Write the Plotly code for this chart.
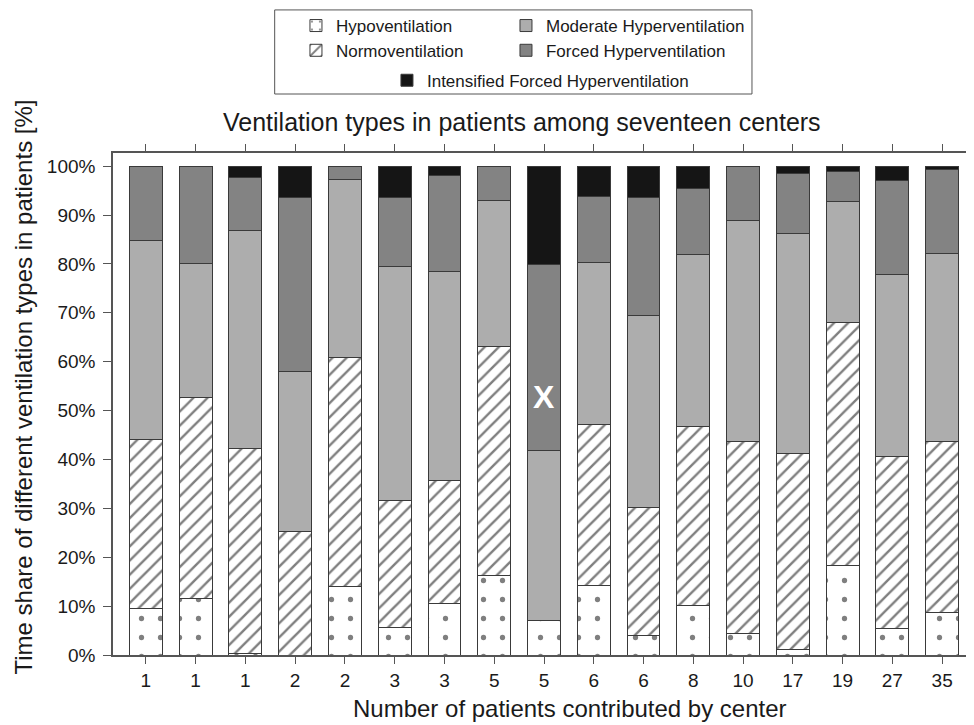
import plotly.graph_objects as go

centers = ["1", "1", "1", "2", "2", "3", "3", "5", "5", "6", "6", "8", "10", "17", "19", "27", "35"]

# Cumulative tops (percent)
hypo_top = [9.5, 11.5, 0.3, 0.0, 14.0, 5.6, 10.6, 16.2, 7.0, 14.2, 4.0, 10.2, 4.3, 1.2, 18.4, 5.4, 8.7]
normo_top = [44.1, 52.6, 42.3, 25.2, 60.8, 31.6, 35.7, 63.1, 7.0, 47.1, 30.1, 46.8, 43.6, 41.2, 68.1, 40.7, 43.6]
moderate_top = [84.9, 80.1, 86.8, 58.1, 97.3, 79.5, 78.5, 92.9, 41.9, 80.4, 69.4, 81.9, 88.8, 86.2, 92.7, 77.9, 82.1]
forced_top = [100.0, 100.0, 97.7, 93.6, 100.0, 93.6, 98.0, 100.0, 79.8, 93.9, 93.6, 95.4, 100.0, 98.5, 98.9, 97.0, 99.4]
total_top = [100.0] * 17

hypo = hypo_top
normo = [b - a for a, b in zip(hypo_top, normo_top)]
moderate = [b - a for a, b in zip(normo_top, moderate_top)]
forced = [b - a for a, b in zip(moderate_top, forced_top)]
intensified = [b - a for a, b in zip(forced_top, total_top)]

y_ticks = [0, 10, 20, 30, 40, 50, 60, 70, 80, 90, 100]
y_ticktext = [f"{v}%" for v in y_ticks]

xpos = list(range(len(centers)))
FONT = "Arial, Liberation Sans, sans-serif"
EDGE = dict(color="#3a3a3a", width=1)
BW = 0.66

fig = go.Figure()
fig.add_trace(go.Bar(
    x=xpos, y=hypo, name="Hypoventilation", width=BW, legend="legend", showlegend=True,
    marker=dict(color="white", line=EDGE,
                pattern=dict(shape=".", fgcolor="black", bgcolor="white", size=19, solidity=0.06)),
))
fig.add_trace(go.Bar(
    x=xpos, y=normo, name="Normoventilation", width=BW, legend="legend3", showlegend=True,
    marker=dict(color="white", line=EDGE,
                pattern=dict(shape="/", fgcolor="#000000", bgcolor="white", size=10, solidity=0.24)),
))
fig.add_trace(go.Bar(
    x=xpos, y=moderate, name="Moderate Hyperventilation", width=BW, legend="legend2", showlegend=True,
    marker=dict(color="#adadad", line=EDGE),
))
fig.add_trace(go.Bar(
    x=xpos, y=forced, name="Forced Hyperventilation", width=BW, legend="legend4", showlegend=True,
    marker=dict(color="#838383", line=EDGE),
))
fig.add_trace(go.Bar(
    x=xpos, y=intensified, name="Intensified Forced Hyperventilation", width=BW, legend="legend5",
    showlegend=True, marker=dict(color="#151515", line=EDGE),
))

leg_common = dict(orientation="h", xref="container", yref="container", xanchor="left",
                  yanchor="middle", font=dict(size=17), bgcolor="rgba(0,0,0,0)", visible=True)

col1 = 0.2981
col2 = 0.5155
row1, row2, row3 = 0.9749, 0.9404, 0.8986

fig.update_layout(
    width=966, height=717,
    barmode="stack",
    showlegend=True,
    plot_bgcolor="white", paper_bgcolor="white",
    margin=dict(l=105, r=1, t=145, b=70, autoexpand=False),
    font=dict(family=FONT, color="#1a1a1a", size=15),
    legend=dict(x=col1, y=row1, **leg_common),
    legend2=dict(x=col2, y=row1, **leg_common),
    legend3=dict(x=col1, y=row2, **leg_common),
    legend4=dict(x=col2, y=row2, **leg_common),
    legend5=dict(x=0.3923, y=row3, **leg_common),
    xaxis=dict(range=[-0.66, 16.62], tickmode="array", tickvals=xpos, ticktext=centers,
               showline=True, linecolor="#555555", linewidth=1.5, mirror="ticks",
               ticks="outside", ticklen=7, tickcolor="#555555", showgrid=False, zeroline=False,
               tickfont=dict(size=19), ticklabelstandoff=0),
    yaxis=dict(range=[0, 102.7], tickmode="array", tickvals=y_ticks, ticktext=y_ticktext,
               showline=True, linecolor="#555555", linewidth=1.5,
               ticks="outside", ticklen=8, tickcolor="#555555", showgrid=False, zeroline=False,
               tickfont=dict(size=19), ticklabelstandoff=4),
    shapes=[dict(type="rect", xref="paper", yref="paper", x0=0.188, x1=0.743, y0=1.1175, y1=1.285,
                 line=dict(color="#555555", width=1))],
    annotations=[
        dict(text="Ventilation types in patients among seventeen centers", xref="paper", yref="paper",
             x=0.4756, y=1.062, showarrow=False, font=dict(size=25), xanchor="center", yanchor="middle"),
        dict(text="Time share of different ventilation types in patients [%]", xref="paper", yref="paper",
             x=-0.104, y=0.534, showarrow=False, textangle=-90, font=dict(size=24),
             xanchor="center", yanchor="middle"),
        dict(text="Number of patients contributed by center", xref="paper", yref="paper",
             x=0.5314, y=-0.106, showarrow=False, font=dict(size=24), xanchor="center", yanchor="middle"),
        dict(text="<b>X</b>", x=8, y=52.8, xref="x", yref="y", showarrow=False,
             font=dict(size=32, color="white")),
    ],
)

fig.write_html("out.html")
